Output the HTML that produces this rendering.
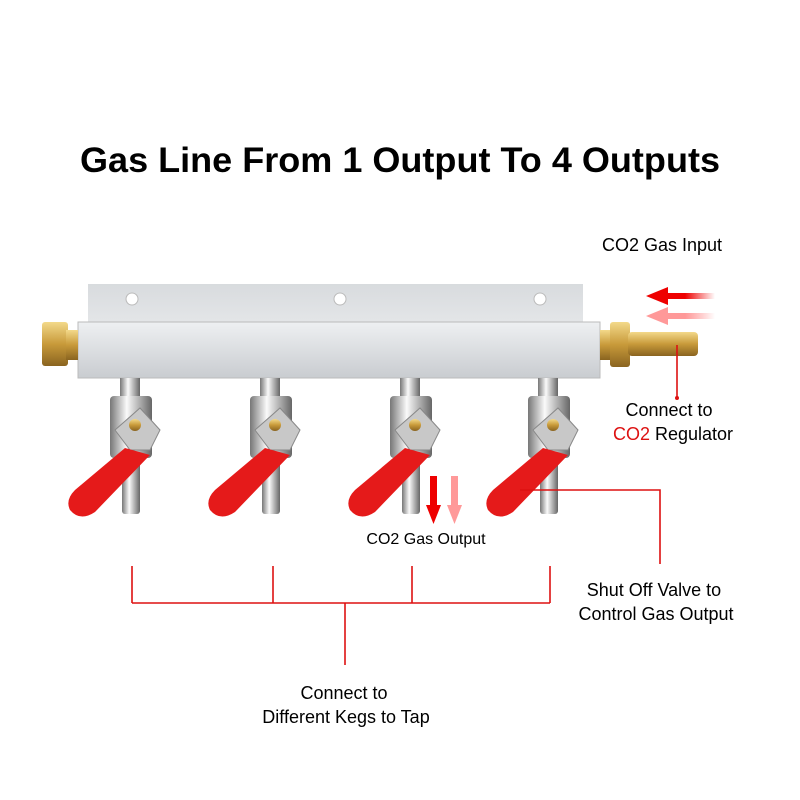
<!DOCTYPE html>
<html><head><style>
body{margin:0;background:#fff;width:800px;height:800px;overflow:hidden}
svg{display:block}
text{font-family:"Liberation Sans",sans-serif}
</style></head><body>
<svg width="800" height="800" viewBox="0 0 800 800">
<defs>
<linearGradient id="al" x1="0" y1="0" x2="0" y2="1"><stop offset="0" stop-color="#eef0f2"/><stop offset="1" stop-color="#c9ccd0"/></linearGradient>
<linearGradient id="al2" x1="0" y1="0" x2="0" y2="1"><stop offset="0" stop-color="#d8dbde"/><stop offset="1" stop-color="#e4e6e8"/></linearGradient>
<linearGradient id="br" x1="0" y1="0" x2="0" y2="1"><stop offset="0" stop-color="#f3d98a"/><stop offset=".5" stop-color="#c89a3a"/><stop offset="1" stop-color="#8a6420"/></linearGradient>
<linearGradient id="ch" x1="0" y1="0" x2="1" y2="0"><stop offset="0" stop-color="#777"/><stop offset=".4" stop-color="#fafafa"/><stop offset="1" stop-color="#666"/></linearGradient>
<linearGradient id="ra" x1="1" y1="0" x2="0" y2="0"><stop offset="0" stop-color="#e00" stop-opacity="0"/><stop offset=".6" stop-color="#e00"/></linearGradient>
<linearGradient id="rb" x1="1" y1="0" x2="0" y2="0"><stop offset="0" stop-color="#f88" stop-opacity="0"/><stop offset=".6" stop-color="#f99"/></linearGradient>
</defs>
<text x="400" y="172" font-size="35" font-weight="bold" text-anchor="middle" textLength="640" lengthAdjust="spacingAndGlyphs">Gas Line From 1 Output To 4 Outputs</text>
<text x="662" y="251" font-size="18" text-anchor="middle">CO2 Gas Input</text>
<!-- manifold -->
<rect x="88" y="284" width="495" height="40" fill="url(#al2)"/>
<circle cx="132" cy="299" r="6" fill="#fff" stroke="#bbb"/>
<circle cx="340" cy="299" r="6" fill="#fff" stroke="#bbb"/>
<circle cx="540" cy="299" r="6" fill="#fff" stroke="#bbb"/>
<rect x="78" y="322" width="522" height="56" fill="url(#al)" stroke="#bbb"/>
<rect x="42" y="322" width="26" height="44" rx="3" fill="url(#br)"/>
<rect x="66" y="330" width="12" height="30" fill="url(#br)"/>
<rect x="600" y="330" width="12" height="30" fill="url(#br)"/>
<rect x="610" y="322" width="20" height="45" rx="3" fill="url(#br)"/>
<rect x="628" y="332" width="70" height="24" rx="4" fill="url(#br)"/>
<!-- arrows -->
<rect x="665" y="293" width="50" height="6" fill="url(#ra)"/><polygon points="646,296 668,287 668,305" fill="#e00"/>
<rect x="665" y="313" width="50" height="6" fill="url(#rb)"/><polygon points="646,316 668,307 668,325" fill="#f99"/>
<!-- valves -->
<g id="v">
<rect x="120" y="378" width="20" height="20" fill="url(#ch)"/>
<rect x="110" y="396" width="42" height="62" rx="4" fill="url(#ch)"/>
<rect x="122" y="456" width="18" height="58" rx="3" fill="url(#ch)"/>
<polygon points="115,430 140,408 160,430 150,450 130,450" fill="#c8c8c8" stroke="#888"/>
<circle cx="135" cy="425" r="6" fill="url(#br)"/>
<path d="M125,448 L150,455 L95,512 Q80,522 70,510 Q65,500 75,490 Z" fill="#e51a1a"/>
</g>
<use href="#v" x="140"/><use href="#v" x="280"/><use href="#v" x="418"/>
<rect x="430" y="476" width="7" height="30" fill="#e00"/><polygon points="426,505 441,505 433.5,524" fill="#e00"/>
<rect x="451" y="476" width="7" height="30" fill="#f99"/><polygon points="447,505 462,505 454.5,524" fill="#f99"/>
<text x="426" y="544" font-size="16" text-anchor="middle">CO2 Gas Output</text>
<!-- connector lines -->
<g stroke="#d11" stroke-width="1.6" fill="none">
<polyline points="677,345 677,398"/>
<polyline points="520,490 660,490 660,564"/>
<line x1="132" y1="566" x2="132" y2="603"/><line x1="273" y1="566" x2="273" y2="603"/>
<line x1="412" y1="566" x2="412" y2="603"/><line x1="550" y1="566" x2="550" y2="603"/>
<line x1="132" y1="603" x2="550" y2="603"/><line x1="345" y1="603" x2="345" y2="665"/>
</g>
<circle cx="677" cy="398" r="2" fill="#d11"/>
<text x="669" y="416" font-size="18" text-anchor="middle">Connect to</text>
<text x="673" y="440" font-size="18" text-anchor="middle"><tspan fill="#d11">CO2</tspan> Regulator</text>
<text x="654" y="596" font-size="18" text-anchor="middle">Shut Off Valve to</text>
<text x="656" y="620" font-size="18" text-anchor="middle">Control Gas Output</text>
<text x="344" y="699" font-size="18" text-anchor="middle">Connect to</text>
<text x="346" y="723" font-size="18" text-anchor="middle">Different Kegs to Tap</text>
</svg>
</body></html>
